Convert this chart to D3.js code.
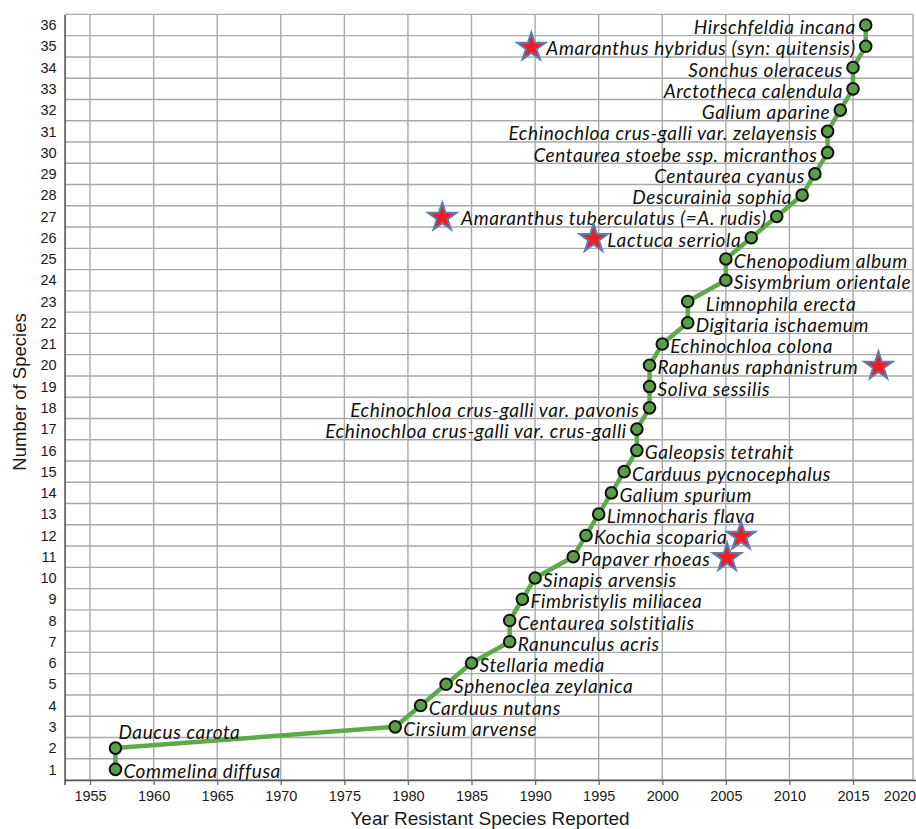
<!DOCTYPE html>
<html><head><meta charset="utf-8">
<script src="https://cdn.jsdelivr.net/npm/d3@7"></script>
<style>body{margin:0;background:#fff}svg{display:block}</style>
</head><body>
<svg id="c" width="916" height="829"></svg>
<script>
const species = ["Commelina diffusa","Daucus carota","Cirsium arvense","Carduus nutans","Sphenoclea zeylanica","Stellaria media","Ranunculus acris","Centaurea solstitialis","Fimbristylis miliacea","Sinapis arvensis","Papaver rhoeas","Kochia scoparia","Limnocharis flava","Galium spurium","Carduus pycnocephalus","Galeopsis tetrahit","Echinochloa crus-galli var. crus-galli","Echinochloa crus-galli var. pavonis","Soliva sessilis","Raphanus raphanistrum","Echinochloa colona","Digitaria ischaemum","Limnophila erecta","Sisymbrium orientale","Chenopodium album","Lactuca serriola","Amaranthus tuberculatus (=A. rudis)","Descurainia sophia","Centaurea cyanus","Centaurea stoebe ssp. micranthos","Echinochloa crus-galli var. zelayensis","Galium aparine","Arctotheca calendula","Sonchus oleraceus","Amaranthus hybridus (syn: quitensis)","Hirschfeldia incana"];
const years = [1957,1957,1979,1981,1983,1985,1988,1988,1989,1990,1993,1994,1995,1996,1997,1998,1998,1999,1999,1999,2000,2002,2002,2005,2005,2007,2009,2011,2012,2013,2013,2014,2015,2015,2016,2016];
const counts = [1,2,3,4,5,6,7,8,9,10,11,12,13,14,15,16,17,18,19,20,21,22,23,24,25,26,27,28,29,30,31,32,33,34,35,36];
// label side: r = right, l = left, a = above
const labelSide = ["r","a","r","r","r","r","r","r","r","r","r","r","r","r","r","r","l","l","r","r","r","r","r","r","r","l","l","l","l","l","l","l","l","l","l","l"];
const starYears = [1989.7,1982.7,1994.6,2006.2,2005.1,2017.0];
const starCounts = [35,27,26,12,11,20];
const xTicks = [1955,1960,1965,1970,1975,1980,1985,1990,1995,2000,2005,2010,2015,2020];
const yTicks = counts;

const svg = d3.select("#c");
const x = d3.scaleLinear().domain([1953,2020]).range([64.6,916.6]);
const y = d3.scaleLinear().domain([0.5,36.5]).range([780,14.4]);
const right = 913;
const sans = "Liberation Sans, Arial, sans-serif";

// grid
const g = svg.append("g");
g.selectAll(".hg").data(d3.range(0.5,37,1)).join("line")
  .attr("x1",x(1953)).attr("x2",right).attr("y1",d=>y(d)).attr("y2",d=>y(d))
  .attr("stroke","#a9a9a9").attr("stroke-width",1.4);
g.selectAll(".vg").data(xTicks).join("line")
  .attr("x1",d=>x(d)).attr("x2",d=>x(d)).attr("y1",y(36.5)).attr("y2",y(0.5))
  .attr("stroke","#a9a9a9").attr("stroke-width",1.4);
g.append("line").attr("x1",right).attr("x2",right).attr("y1",y(36.5)).attr("y2",y(0.5)).attr("stroke","#a9a9a9").attr("stroke-width",1.4);

// axes
const xAxis = d3.axisBottom(x).tickValues(xTicks).tickSize(5).tickFormat(d3.format("d"));
const xa = svg.append("g").attr("transform",`translate(0,${y(0.5)})`).call(xAxis);
xa.select(".domain").attr("stroke","#555").attr("stroke-width",1.6);
xa.selectAll(".tick line").attr("stroke","#666").attr("stroke-width",1.3);
xa.selectAll(".tick text").attr("font-family",sans).attr("font-size",14.5).attr("fill","#1a1a1a").attr("dy","0.9em");
xa.selectAll(".tick").filter(d=>d===2020).select("text").attr("text-anchor","end").attr("x",-1);

const yAxis = d3.axisLeft(y).tickValues(yTicks).tickSize(0).tickPadding(8).tickFormat(d3.format("d"));
const ya = svg.append("g").attr("transform",`translate(${x(1953)},0)`).call(yAxis);
ya.select(".domain").attr("stroke","#555").attr("stroke-width",1.6);
ya.selectAll(".tick text").attr("font-family",sans).attr("font-size",14.5).attr("fill","#1a1a1a");

svg.append("text").attr("x",490).attr("y",825).attr("text-anchor","middle")
  .attr("font-family",sans).attr("font-size",19).attr("fill","#1a1a1a")
  .text("Year Resistant Species Reported");
svg.append("text").attr("transform","translate(26,392) rotate(-90)").attr("text-anchor","middle")
  .attr("font-family",sans).attr("font-size",18.5).attr("fill","#1a1a1a")
  .text("Number of Species");

// line
const pts = years.map((yr,i)=>({yr,c:counts[i],name:species[i],side:labelSide[i]}));
svg.append("path").datum(pts)
  .attr("d",d3.line().x(d=>x(d.yr)).y(d=>y(d.c)))
  .attr("fill","none").attr("stroke","#5dab48").attr("stroke-width",4.5).attr("stroke-linejoin","round");

// markers
svg.selectAll(".pt").data(pts).join("circle")
  .attr("cx",d=>x(d.yr)).attr("cy",d=>y(d.c)).attr("r",5.8)
  .attr("fill","#5a9e47").attr("stroke","#111").attr("stroke-width",2);

// labels
svg.selectAll(".lb").data(pts).join("text")
  .attr("x",d=> d.side==="l" ? x(d.yr)-10 : d.side==="a" ? x(d.yr)+3 : x(d.yr)+ (d.name==="Limnophila erecta"?18:8))
  .attr("y",d=> d.side==="a" ? y(d.c)-17 : y(d.c)+1.5)
  .attr("dominant-baseline","central")
  .attr("text-anchor",d=>d.side==="l"?"end":"start")
  .attr("font-family","Lato, 'Open Sans', sans-serif").attr("font-style","italic").attr("font-size",19)
  .attr("letter-spacing",0.6)
  .attr("fill","#111")
  .text(d=>d.name);

// stars
const star = d3.symbol().type(d3.symbolStar).size(250);
svg.selectAll(".st").data(starYears.map((s,i)=>({s,c:starCounts[i]}))).join("path")
  .attr("d",star).attr("transform",d=>`translate(${x(d.s)},${y(d.c)+1})`)
  .attr("fill","#ee1c24").attr("stroke","#5b7fb0").attr("stroke-width",2).attr("stroke-linejoin","miter");
</script>
</body></html>
